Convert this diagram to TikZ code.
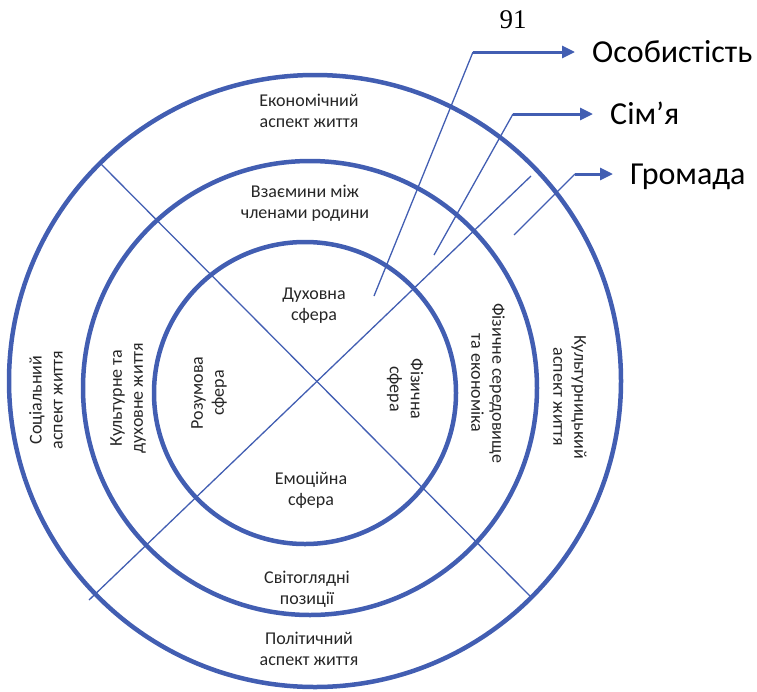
\documentclass[tikz,border=0pt]{standalone}
\usepackage{fontspec}
\setmainfont{Carlito}
\newfontfamily\pagefont{Liberation Serif}
\usetikzlibrary{arrows.meta}
\definecolor{ringBlue}{RGB}{66,94,178}
\tikzset{
    x=1pt, y=-1pt, % one unit is one pixel of the page, y runs downwards
    ring/.style={draw=ringBlue, line width=4.5pt}, % the three circles
    divider/.style={draw=ringBlue, line width=1.3pt}, % thin lines across the rings
    pointer/.style={draw=ringBlue, line width=3pt, -{Triangle[length=13pt, width=12pt]}}, % arrows to the levels
}

\begin{document}
\begin{tikzpicture}[
        styleArea/.style={align=center, font=\fontsize{18}{21}\selectfont, text=black!85, inner sep=0pt},
        styleUp/.style={styleArea, rotate=90},
        styleDown/.style={styleArea, rotate=-90},
        styleLevel/.style={anchor=west, font=\fontsize{32}{38}\selectfont, inner xsep=17pt, inner ysep=0pt, text height=20.6pt, text depth=0pt},
    ]
    \useasboundingbox (0,0) rectangle (757,691);
    \draw[ring] (315,381) circle (306pt);
    \draw[ring] (310,388) circle (227pt);
    \draw[ring] (305,393) circle (151pt);

    \coordinate (nw) at (100,163);
    \coordinate (se) at (531,597);
    \coordinate (sw) at (89,600);
    \coordinate (ne) at (531,176);
    \draw[divider] (nw) -- (se);
    \draw[divider] (sw) -- (ne);

    \node[styleArea] (ekon) at (309,111) {Економічний\\аспект життя};
    \node[styleArea] (vzaem) at (305,203) {Взаємини між\\членами родини};
    \node[styleArea] (dukh) at (314,306) {Духовна\\сфера};
    \node[styleArea] (emoc) at (311,490) {Емоційна\\сфера};
    \node[styleArea] (svit) at (307,589) {Світоглядні\\позиції};
    \node[styleArea] (polit) at (309,649) {Політичний\\аспект життя};
    \node[styleUp] (soc) at (46,400) {Соціальний\\аспект життя};
    \node[styleUp] (kult) at (128,398) {Культурне та\\духовне життя};
    \node[styleUp] (rozum) at (209,393) {Розумова\\сфера};
    \node[styleDown] (fiz) at (405,389) {Фізична\\сфера};
    \node[styleDown] (sered) at (488,383) {Фізичне середовище\\та економіка};
    \node[styleDown] (kultur) at (570,397) {Культурницький\\аспект життя};

    \node[font=\pagefont\fontsize{27}{30}\selectfont] (page) at (513,20) {91};
    \node[styleLevel] (osob) at (575,52) {Особистість};
    \node[styleLevel] (simya) at (593,114) {Сім’я};
    \node[styleLevel] (hromada) at (613,174) {Громада};

    \coordinate (osobStart) at (374,296);
    \coordinate (osobBend) at (473,52);
    \coordinate (simyaStart) at (434,255);
    \coordinate (simyaBend) at (513,114);
    \coordinate (hromadaStart) at (514,235);
    \coordinate (hromadaBend) at (575,174);
    \draw[divider] (osobStart) -- (osobBend);
    \draw[pointer] (osobBend) -- (osob.west);
    \draw[divider] (simyaStart) -- (simyaBend);
    \draw[pointer] (simyaBend) -- (simya.west);
    \draw[divider] (hromadaStart) -- (hromadaBend);
    \draw[pointer] (hromadaBend) -- (hromada.west);
\end{tikzpicture}
\end{document}
